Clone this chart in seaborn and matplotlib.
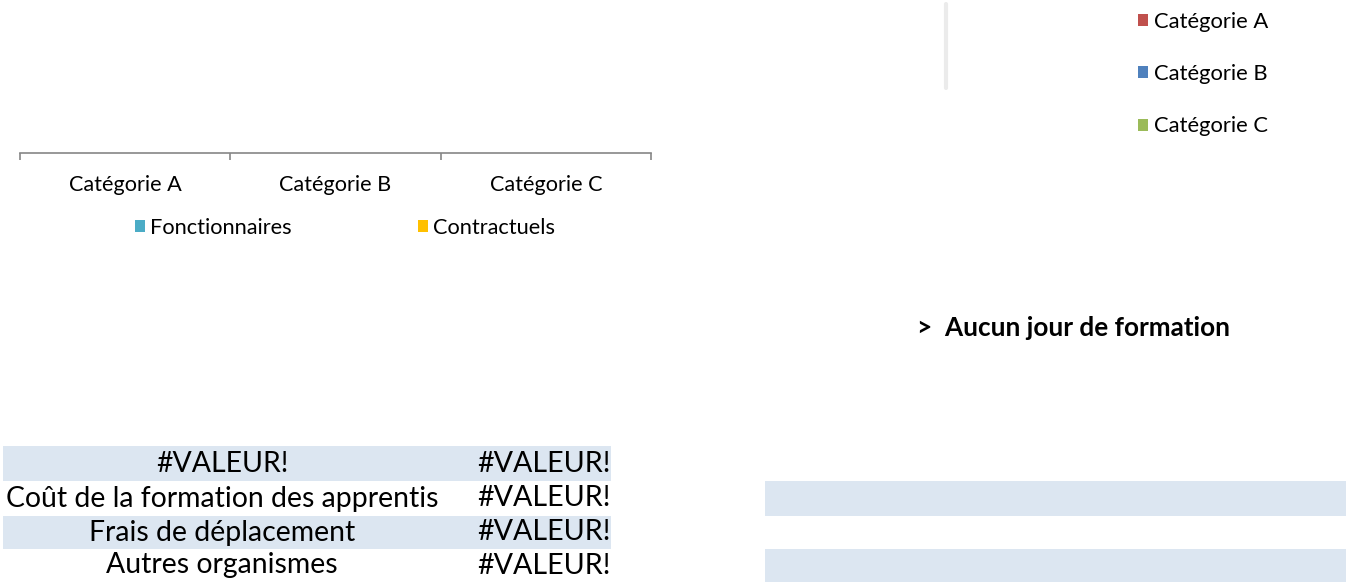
import matplotlib
matplotlib.use('Agg')
import matplotlib.pyplot as plt
import seaborn as sns
import pandas as pd
from matplotlib.lines import Line2D

# data
categories = ['Catégorie A', 'Catégorie B', 'Catégorie C']
statuts = ['Fonctionnaires', 'Contractuels']
effectifs_fonct = [0, 0, 0]
effectifs_contr = [0, 0, 0]
repartition = [0, 0, 0]
cout_labels = ['#VALEUR!', 'Coût de la formation des apprentis',
               'Frais de déplacement', 'Autres organismes']
cout_values = ['#VALEUR!', '#VALEUR!', '#VALEUR!', '#VALEUR!']
message = '>  Aucun jour de formation'

statut_colors = ['#4BACC6', '#FFC000']
cat_colors = ['#C0504D', '#4F81BD', '#9BBB59']
band = '#DCE6F1'
axis_grey = '#868686'

sns.set_style('white')
plt.rcParams['font.family'] = ['Lato', 'DejaVu Sans']
plt.rcParams['text.color'] = 'black'
plt.rcParams['xtick.color'] = axis_grey
plt.rcParams['xtick.labelcolor'] = 'black'

W, H = 1351, 582
fig = plt.figure(figsize=(W / 100, H / 100), dpi=100)


def fx(px):
    return px / W


def fy(py):
    return 1 - py / H


# bar chart by category (empty)
df = pd.DataFrame({
    'Catégorie': categories * 2,
    'Statut': [statuts[0]] * 3 + [statuts[1]] * 3,
    'Effectif': effectifs_fonct + effectifs_contr,
})
ax = fig.add_axes([fx(20), fy(153), fx(651) - fx(20), fy(10) - fy(153)])
sns.barplot(data=df, x='Catégorie', y='Effectif', hue='Statut',
            palette=statut_colors, saturation=1, linewidth=0, ax=ax)
ax.set_xlim(-0.5, 2.5)
ax.set_ylim(0, 1)
for s in ['left', 'top', 'right']:
    ax.spines[s].set_visible(False)
ax.spines['bottom'].set_color(axis_grey)
ax.spines['bottom'].set_linewidth(1.2)
ax.set_yticks([])
ax.set_xlabel('')
ax.set_ylabel('')
ax.set_xticks([-0.5, 0.5, 1.5, 2.5])
ax.set_xticklabels([])
ax.tick_params(axis='x', which='major', length=5.2, width=1.2,
               color=axis_grey, direction='out', bottom=True)
ax.set_xticks(range(len(categories)), minor=True)
ax.set_xticklabels(categories, minor=True, fontsize=15.6, color='black')
ax.tick_params(axis='x', which='minor', length=0, pad=16, bottom=True)
sns.move_legend(ax, loc='center left',
                bbox_to_anchor=(fx(135), fy(228)),
                bbox_transform=fig.transFigure, ncol=2, frameon=False,
                title=None, fontsize=15.7, handlelength=0.45,
                handleheight=0.45, handletextpad=0.25, columnspacing=5.77,
                borderpad=0, borderaxespad=0)

# category legend (pie without data)
ax2 = fig.add_axes([fx(960), fy(140), fx(1100) - fx(960), fy(5) - fy(140)])
sns.barplot(x=categories, y=repartition, hue=categories,
            palette=cat_colors, saturation=1, linewidth=0, legend=True,
            ax=ax2)
ax2.axis('off')
sns.move_legend(ax2, loc='center left',
                bbox_to_anchor=(fx(1138), fy(74)),
                bbox_transform=fig.transFigure, ncol=1, frameon=False,
                title=None, fontsize=15.8, handlelength=0.45,
                handleheight=0.45, handletextpad=0.3, labelspacing=1.48,
                borderpad=0, borderaxespad=0)
fig.add_artist(Line2D([fx(946), fx(946)], [fy(4), fy(88)],
                      color='#ebebeb', lw=3))

# overlay in pixel coordinates for text and tables
bg = fig.add_axes([0, 0, 1, 1])
bg.set_xlim(0, W)
bg.set_ylim(H, 0)
bg.axis('off')
bg.patch.set_alpha(0)

bg.text(917, 328, message, fontsize=18.8, fontweight='bold',
        ha='left', va='center', color='black')

row_edges = [446, 481, 516, 549, 582]
for i, (lab, val) in enumerate(zip(cout_labels, cout_values)):
    y0, y1 = row_edges[i], row_edges[i + 1]
    if i % 2 == 0:
        bg.fill_between([3, 611], y0, y1, color=band, lw=0)
    yc = (y0 + y1) / 2
    bg.text(222, yc, lab, fontsize=20.4, ha='center', va='center')
    bg.text(611, yc, val, fontsize=20.6, ha='right', va='center')

for i in range(len(cout_labels)):
    if i % 2 == 1:
        bg.fill_between([765, 1346], row_edges[i], row_edges[i + 1],
                        color=band, lw=0)

fig.savefig('out.png', dpi=100)
